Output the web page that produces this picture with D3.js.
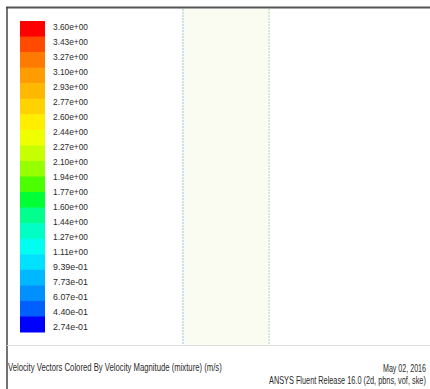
<!DOCTYPE html>
<html>
<head>
<meta charset="utf-8">
<script src="https://cdn.jsdelivr.net/npm/d3@7"></script>
<style>
  body { margin: 0; background: #fff; }
  text { font-family: "Liberation Sans", Arial, sans-serif; fill: #2a2a2a; }
</style>
</head>
<body>
<svg id="chart" width="430" height="389"></svg>
<script>
// colormap levels (top to bottom), 21 labels and 20 bands
const level_labels = ["3.60e+00","3.43e+00","3.27e+00","3.10e+00","2.93e+00","2.77e+00",
  "2.60e+00","2.44e+00","2.27e+00","2.10e+00","1.94e+00","1.77e+00","1.60e+00","1.44e+00",
  "1.27e+00","1.11e+00","9.39e-01","7.73e-01","6.07e-01","4.40e-01","2.74e-01"]
const band_colors = ["#ff0000","#ff4a00","#ff7a00","#ff9c00","#ffb800","#ffd200",
  "#ffee00","#f0ff00","#c8ff00","#96ff00","#4cff00","#00ff34","#00ff8c","#00ffc4",
  "#00fff0","#00e0ff","#00b8ff","#0090ff","#0060ff","#0000ff"]
const caption = "Velocity Vectors Colored By Velocity Magnitude (mixture)  (m/s)"
const stamp = ["May 02, 2016", "ANSYS Fluent Release 16.0 (2d, pbns, vof, ske)"]

const svg = d3.select("#chart")

// condensed text: squeeze horizontally to a given width
function squeezed(g, str, x, y, size, width) {
  const t = g.append("text").attr("font-size", size).text(str)
  const w = t.node().getComputedTextLength()
  t.attr("transform", `translate(${x},${y}) scale(${width / w},1)`)
  return t
}

// frame
svg.append("line").attr("x1",6).attr("x2",430).attr("y1",7.5).attr("y2",7.5)
  .attr("stroke","#555").attr("stroke-width",2)
svg.append("line").attr("x1",7).attr("x2",7).attr("y1",7).attr("y2",389)
  .attr("stroke","#444").attr("stroke-width",1.5)
svg.append("line").attr("x1",7).attr("x2",430).attr("y1",345.5).attr("y2",345.5)
  .attr("stroke","#ddd").attr("stroke-width",1)

// domain (vectors shown as pale fill)
const dom = svg.append("g")
dom.append("rect").attr("x",183).attr("y",9).attr("width",86).attr("height",336)
  .attr("fill","#fafcf1")
dom.append("line").attr("x1",183).attr("x2",183).attr("y1",9).attr("y2",345)
  .attr("stroke","#8cc9d6").attr("stroke-width",1).attr("stroke-dasharray","2,1")
dom.append("line").attr("x1",269).attr("x2",269).attr("y1",9).attr("y2",345)
  .attr("stroke","#a6dcb0").attr("stroke-width",1).attr("stroke-dasharray","2,1")

// color bar
const band = d3.scaleBand().domain(d3.range(band_colors.length)).range([21, 332])
svg.append("g").selectAll("rect").data(band_colors).join("rect")
  .attr("x",20).attr("width",25)
  .attr("y",(d,i)=>band(i)).attr("height",band.bandwidth()+0.5)
  .attr("fill",d=>d)

const ly = d3.scalePoint().domain(level_labels).range([27, 327])
const lab = svg.append("g")
level_labels.forEach(d => squeezed(lab, d, 53, ly(d) + 3, 9, 35))

// captions
const cap = svg.append("g")
squeezed(cap, caption, 8, 371, 10.5, 214)
squeezed(cap, stamp[0], 383, 372, 10.5, 43)
squeezed(cap, stamp[1], 269, 384, 10.5, 157)
</script>
</body>
</html>
